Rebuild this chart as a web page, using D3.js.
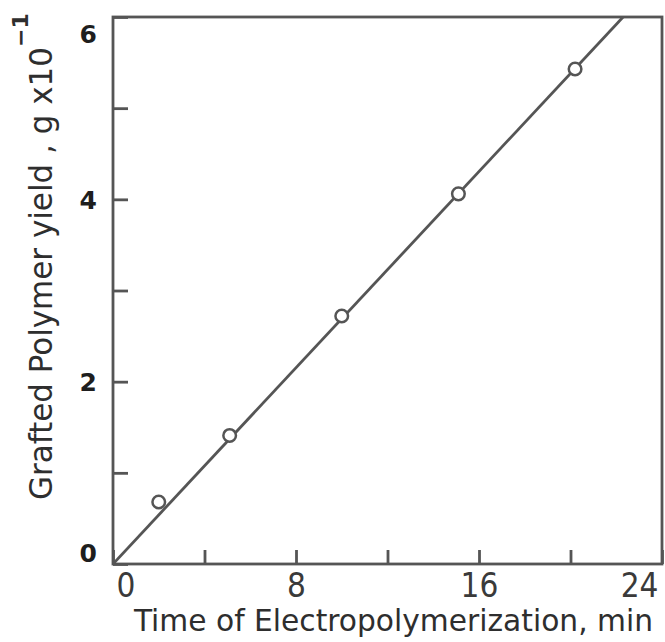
<!DOCTYPE html>
<html>
<head>
<meta charset="utf-8">
<script src="https://cdn.jsdelivr.net/npm/d3@7"></script>
<style>
  html, body { margin: 0; padding: 0; background: #fff; }
  svg { display: block; }
</style>
</head>
<body>
<div id="chart"></div>
<script>
// Measured points (time in min, yield in g x10^-1)
const times = [2, 5.1, 10, 15.1, 20.2];
const yields = [0.68, 1.41, 2.72, 4.06, 5.43];

// Fitted straight line, drawn from origin until it leaves the frame
const fitX = [0, 22.3];
const fitY = [0, 6];

const xTicks = [0, 4, 8, 12, 16, 20, 24];
const xLabels = [0, 8, 16, 24];
const yTicks = [0, 1, 2, 3, 4, 5, 6];
const yLabels = [0, 2, 4, 6];

const width = 665;
const height = 642;
const marginTop = 17;
const marginRight = 3;
const marginBottom = 78;
const marginLeft = 113;

const ink = "#555";
const textInk = "#2e2e2e";

const x = d3.scaleLinear().domain([0, 24]).range([marginLeft, width - marginRight]);
const y = d3.scaleLinear().domain([0, 6]).range([height - marginBottom, marginTop]);

const svg = d3.select("#chart")
  .append("svg")
  .attr("width", width)
  .attr("height", height)
  .attr("viewBox", [0, 0, width, height]);

// Frame
svg.append("rect")
  .attr("x", x(0))
  .attr("y", y(6))
  .attr("width", x(24) - x(0))
  .attr("height", y(0) - y(6))
  .attr("fill", "none")
  .attr("stroke", ink)
  .attr("stroke-width", 2.8);

// Bottom axis, ticks pointing inward
svg.append("g")
  .attr("transform", `translate(0,${y(0)})`)
  .call(d3.axisBottom(x)
    .tickValues(xTicks)
    .tickSizeInner(-14)
    .tickSizeOuter(0)
    .tickPadding(10)
    .tickFormat((d) => (xLabels.includes(d) ? d : "")))
  .call((g) => g.select(".domain").remove())
  .call((g) => g.selectAll(".tick line").attr("stroke", ink).attr("stroke-width", 2.8))
  .call((g) => g.selectAll(".tick text")
    .attr("fill", "#3a3a3a")
    .attr("font-size", "33px")
    .attr("font-family", "'DejaVu Sans Condensed', 'DejaVu Sans', sans-serif")
    .attr("text-anchor", (d) => (d === 0 ? "start" : d === 24 ? "end" : "middle"))
    .attr("dx", (d) => (d === 0 ? 3 : d === 24 ? -4 : 0)));

// Left axis, ticks pointing inward
svg.append("g")
  .attr("transform", `translate(${x(0)},0)`)
  .call(d3.axisLeft(y)
    .tickValues(yTicks)
    .tickSizeInner(-15)
    .tickSizeOuter(0)
    .tickPadding(16)
    .tickFormat((d) => (yLabels.includes(d) ? d : "")))
  .call((g) => g.select(".domain").remove())
  .call((g) => g.selectAll(".tick line").attr("stroke", ink).attr("stroke-width", 2.8))
  .call((g) => g.selectAll(".tick text")
    .attr("fill", "#1e1e1e")
    .attr("font-size", "25px")
    .attr("font-weight", "700")
    .attr("font-family", "'DejaVu Sans', sans-serif")
    .attr("dy", (d) => (d === 6 ? "1.0em" : d === 0 ? "-0.1em" : "0.35em")));

// Fitted line, clipped to the frame
svg.append("defs").append("clipPath")
  .attr("id", "plot-clip")
  .append("rect")
  .attr("x", x(0))
  .attr("y", y(6))
  .attr("width", x(24) - x(0))
  .attr("height", y(0) - y(6));

svg.append("path")
  .attr("class", "fit")
  .datum(fitX.map((d, i) => [d, fitY[i]]))
  .attr("clip-path", "url(#plot-clip)")
  .attr("fill", "none")
  .attr("stroke", ink)
  .attr("stroke-width", 2.8)
  .attr("d", d3.line().x((d) => x(d[0])).y((d) => y(d[1])));

// Open circle markers
svg.append("g")
  .selectAll("circle")
  .data(times.map((t, i) => ({ t, v: yields[i] })))
  .join("circle")
  .attr("cx", (d) => x(d.t))
  .attr("cy", (d) => y(d.v))
  .attr("r", 6.3)
  .attr("fill", "#fff")
  .attr("stroke", ink)
  .attr("stroke-width", 2.5);

// X axis title
svg.append("text")
  .attr("x", 134)
  .attr("y", 631)
  .attr("fill", textInk)
  .attr("font-size", "31px")
  .attr("font-family", "'DejaVu Sans Condensed', 'DejaVu Sans', sans-serif")
  .attr("textLength", 519)
  .attr("lengthAdjust", "spacingAndGlyphs")
  .text("Time of  Electropolymerization, min");

// Y axis title (rotated)
svg.append("text")
  .attr("transform", "translate(52,500) rotate(-90)")
  .attr("fill", textInk)
  .attr("font-size", "32px")
  .attr("font-family", "'DejaVu Sans Condensed', 'DejaVu Sans', sans-serif")
  .attr("textLength", 453)
  .attr("lengthAdjust", "spacingAndGlyphs")
  .text("Grafted  Polymer  yield , g x10");

svg.append("text")
  .attr("transform", "translate(28,47) rotate(-90)")
  .attr("fill", textInk)
  .attr("font-size", "22px")
  .attr("font-weight", "700")
  .attr("font-family", "'DejaVu Sans', sans-serif")
  .text("\u22121");
</script>
</body>
</html>
